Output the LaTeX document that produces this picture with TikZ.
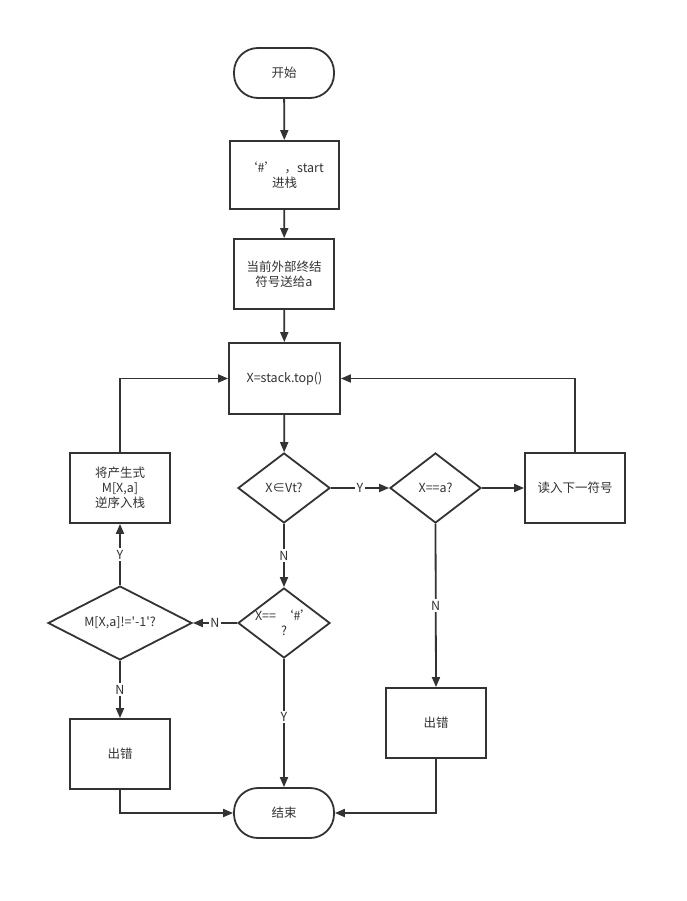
\documentclass[tikz,border=0pt]{standalone}
\usepackage{fontspec}
\setmainfont{Noto Sans CJK SC}[Ligatures=TeXOff]
\usetikzlibrary{shapes.geometric,arrows.meta}
\definecolor{ink}{HTML}{333333}
\begin{document}
\begin{tikzpicture}[x=1pt,y=-1pt,
  every node/.style={font=\fontsize{12.5}{15}\selectfont, text=ink, align=center},
  box/.style={draw=ink, line width=1.8pt, rectangle, inner sep=0pt},
  term/.style={draw=ink, line width=1.8pt, rectangle, rounded corners=24pt, minimum width=100pt, minimum height=50pt, inner sep=0pt},
  dia/.style={draw=ink, line width=1.8pt, diamond, inner sep=0pt},
  conn/.style={draw=ink, line width=1.8pt, -{Triangle[length=10pt,width=8pt]}},
  lbl/.style={fill=white, inner sep=1.5pt}
]
\useasboundingbox (0,0) rectangle (687,901);
\fill[white] (0,0) rectangle (687,901);

\node[term] (start) at (284,73) {开始};
\node[box, minimum width=109pt, minimum height=68pt] (push) at (284.5,175) {‘\#’\hspace{0.6em}，start\\进栈};
\node[box, minimum width=100pt, minimum height=70pt] (read) at (284,274) {当前外部终结\\符号送给a};
\node[box, minimum width=111pt, minimum height=71pt] (top) at (284.5,378.5) {X=stack.top()};
\node[dia, minimum width=92pt, minimum height=70pt] (d1) at (284,488) {};
\node at (d1) {X∈Vt?};
\node[dia, minimum width=91pt, minimum height=70pt] (d2) at (435.5,488) {};
\node at (d2) {X==a?};
\node[box, minimum width=100pt, minimum height=70pt] (next) at (575,488) {读入下一符号};
\node[box, minimum width=100pt, minimum height=70pt] (prod) at (120,488) {将产生式\\M[X,a]\\逆序入栈};
\node[dia, minimum width=144pt, minimum height=74pt] (d3) at (120,623) {};
\node at (d3) {M[X,a]!='-1'?};
\node[dia, minimum width=92pt, minimum height=70pt] (d4) at (284,623) {};
\node at (d4) {X==\hspace{0.4em}‘\#’\\?};
\node[box, minimum width=100pt, minimum height=70pt] (errL) at (120,754) {出错};
\node[box, minimum width=100pt, minimum height=70pt] (errR) at (436,723) {出错};
\node[term] (end) at (284,813) {结束};

\draw[conn] (start) -- (push);
\draw[conn] (push) -- (read);
\draw[conn] (read) -- (top);
\draw[conn] (top) -- (d1);
\draw[conn] (d1) -- node[lbl] {Y} (d2);
\draw[conn] (d2) -- (next);
\draw[conn] (next.north) |- (top.east);
\draw[conn] (d1) -- node[lbl] {N} (d4);
\draw[conn] (d4) -- node[lbl] {N} (d3);
\draw[conn] (d3) -- node[lbl] {Y} (prod);
\draw[conn] (prod.north) |- (top.west);
\draw[conn] (d3) -- node[lbl] {N} (errL);
\draw[conn] (d4) -- node[lbl, pos=0.45] {Y} (end);
\draw[conn] (errL.south) |- (end.west);
\draw[conn] (d2.south) -- node[lbl, pos=0.5] {N} (errR.north);
\draw[conn] (errR.south) |- (end.east);
\end{tikzpicture}
\end{document}
